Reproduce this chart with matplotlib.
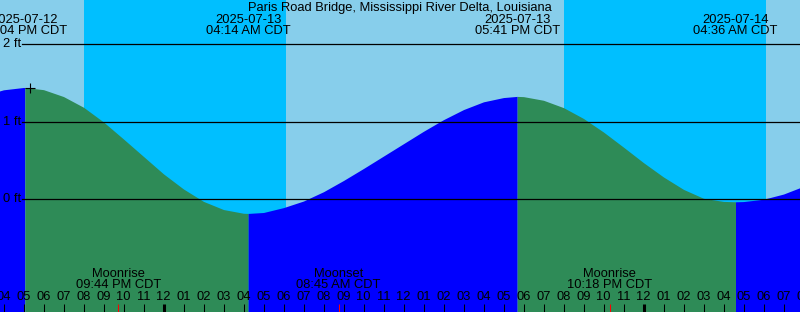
import matplotlib
matplotlib.use("Agg")
import matplotlib.pyplot as plt
import numpy as np

plt.rcParams['font.family'] = ['Liberation Sans', 'DejaVu Sans']

title = "Paris Road Bridge, Mississippi River Delta, Louisiana"

# hourly sample times (hours relative to 2025-07-13 00:00 CDT) and tide heights (ft)
sample_hours = list(range(-9, 33))
sample_heights = [1.34, 1.415, 1.445, 1.417, 1.328, 1.19, 1.00, 0.78, 0.555, 0.33,
                  0.135, -0.025, -0.13, -0.178, -0.168, -0.105, -0.02, 0.10, 0.245, 0.40,
                  0.56, 0.72, 0.88, 1.03, 1.16, 1.26, 1.315, 1.327, 1.28, 1.185,
                  1.045, 0.87, 0.675, 0.475, 0.29, 0.13, 0.015, -0.025, -0.027, 0.003,
                  0.07, 0.17]

# high / low tide events
event_hours = [-6.933, 4.233, 17.683, 28.6]
event_heights = [1.445, -0.18, 1.33, -0.03]
event_dates = ['2025-07-12', '2025-07-13', '2025-07-13', '2025-07-14']
event_times = ['05:04 PM CDT', '04:14 AM CDT', '05:41 PM CDT', '04:36 AM CDT']

# moon events
moon_hours = [-2.267, 8.75, 22.3]
moon_names = ['Moonrise', 'Moonset', 'Moonrise']
moon_times = ['09:44 PM CDT', '08:45 AM CDT', '10:18 PM CDT']

# sun events
sunset_hours = [-3.98, 20.02]
sunrise_hours = [6.12, 30.12]

# hour ticks
tick_hours = list(range(-9, 33))
tick_labels = ['%02d' % (((h % 24) % 12) or 12) for h in tick_hours]

now_hour = -6.675
now_height = 1.435

y_levels = [0, 1, 2]
y_labels = ['0 ft', '1 ft', '2 ft']

DAY = '#87CEEB'
NIGHT = '#00BFFF'
RISE = '#0000FF'
FALL = '#2E8B57'
FS = 9.3

W, H = 800, 312
fig = plt.figure(figsize=(W / 100, H / 100), dpi=100)
ax = fig.add_axes([0, 0, 1, 1])
ax.set_axis_off()
ax.set_facecolor(DAY)
fig.patch.set_facecolor(DAY)

xmin, xmax = -8.175, 31.825
ymin, ymax = -1.452, 2.574
ax.set_xlim(xmin, xmax)
ax.set_ylim(ymin, ymax)

ax.axvspan(xmin - 5, xmax + 5, color=DAY, lw=0, zorder=0)
for s, r in zip(sunset_hours, sunrise_hours):
    ax.axvspan(s, r, color=NIGHT, lw=0, zorder=1)

# curve: merge samples with events
t = np.array(sample_hours + event_hours, dtype=float)
h = np.array(sample_heights + event_heights, dtype=float)
order = np.argsort(t)
t, h = t[order], h[order]

bounds = [t[0]] + event_hours + [t[-1]]
for i in range(len(bounds) - 1):
    a, b = bounds[i], bounds[i + 1]
    m = (t >= a) & (t <= b)
    if i < len(event_hours):
        rising = (i % 2 == 0)  # first segment ends at a high tide
    else:
        rising = True
    color = RISE if rising else FALL
    ax.fill_between(t[m], h[m], ymin - 1, color=color, lw=0, zorder=2)

# horizontal level lines
for lv, lab in zip(y_levels, y_labels):
    ax.axhline(lv, xmin=22 / W, xmax=1, color='black', lw=0.9, zorder=4)
    ax.text(2.5 / W * (xmax - xmin) + xmin, lv, lab, fontsize=FS, ha='left', va='center',
            color='black', zorder=5)

xt = ax.get_xaxis_transform()
def yfrac(ypx):
    return 1 - ypx / H

# title
ax.text(0.5, yfrac(7.5), title, transform=ax.transAxes, ha='center', va='center',
        fontsize=FS, color='black', zorder=6)

# event labels
for eh, d, tm in zip(event_hours, event_dates, event_times):
    ax.text(eh, yfrac(19.8), d, transform=xt, ha='center', va='center', fontsize=FS, zorder=6)
    ax.text(eh, yfrac(31.5), tm, transform=xt, ha='center', va='center', fontsize=FS, zorder=6)

# moon labels
for mh, nm, tm in zip(moon_hours, moon_names, moon_times):
    ax.text(mh, yfrac(273.8), nm, transform=xt, ha='center', va='center', fontsize=FS, zorder=6)
    ax.text(mh, yfrac(285.5), tm, transform=xt, ha='center', va='center', fontsize=FS, zorder=6)

# hour ticks and labels
for th, tl in zip(tick_hours, tick_labels):
    midnight = (th % 24 == 0)
    ax.plot([th, th], [0, 8 / H], transform=xt, color='black',
            lw=2.2 if midnight else 0.75, solid_capstyle='butt', zorder=6)
    ax.text(th, yfrac(297.2), tl, transform=xt, ha='center', va='center', fontsize=FS, zorder=6)

for mh in moon_hours:
    ax.plot([mh, mh], [0, 8 / H], transform=xt, color='red', lw=0.75,
            solid_capstyle='butt', zorder=7)

ax.plot([now_hour], [now_height], marker='+', color='black', markersize=6.5,
        mew=0.8, zorder=8)

fig.savefig('out.png', dpi=100, facecolor=DAY)
